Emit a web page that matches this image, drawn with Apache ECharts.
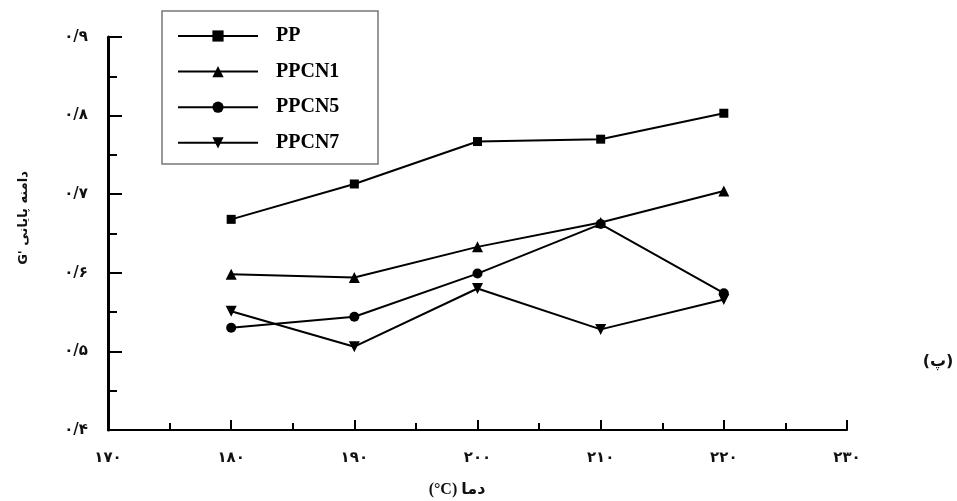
<!DOCTYPE html>
<html><head><meta charset="utf-8">
<script src="https://cdn.jsdelivr.net/npm/echarts@6/dist/echarts.min.js"></script>
<style>html,body{margin:0;padding:0;background:#fff}#c{width:957px;height:501px}</style>
</head><body><div id="c"></div>
<script>
const temps = [180, 190, 200, 210, 220];
const ppValues    = [0.668, 0.713, 0.767, 0.770, 0.803];
const ppcn1Values = [0.598, 0.594, 0.633, 0.664, 0.704];
const ppcn5Values = [0.530, 0.544, 0.599, 0.662, 0.574];
const ppcn7Values = [0.551, 0.506, 0.580, 0.528, 0.566];
const seriesNames = ['PP', 'PPCN1', 'PPCN5', 'PPCN7'];
const xTickValues = [170, 180, 190, 200, 210, 220, 230];
const xTickLabels = ['۱۷۰', '۱۸۰', '۱۹۰', '۲۰۰', '۲۱۰', '۲۲۰', '۲۳۰'];
const yTickValues = [0.4, 0.5, 0.6, 0.7, 0.8, 0.9];
const yTickLabels = ['۰/۴', '۰/۵', '۰/۶', '۰/۷', '۰/۸', '۰/۹'];
const xTitle = '(°C) دما';
const yTitle = "G' دامنه پایانی";
const panelLabel = '(پ)';

function lookup(vals, labels, v) {
  for (let i = 0; i < vals.length; i++) if (Math.abs(vals[i] - v) < 1e-6) return labels[i];
  return '';
}
const pair = arr => temps.map((t, i) => [t, arr[i]]);
const labelFont = {color: '#111', fontFamily: 'DejaVu Sans', fontWeight: 'bold', fontSize: 15};
const lineCommon = {
  type: 'line', lineStyle: {color: '#000', width: 2}, itemStyle: {color: '#000'},
  symbolSize: 9, z: 3
};
const chart = echarts.init(document.getElementById('c'), null, {renderer: 'canvas'});
chart.setOption({
  animation: false,
  backgroundColor: '#fff',
  grid: {left: 108, right: 110, top: 37, bottom: 71},
  xAxis: {
    type: 'value', min: 170, max: 230, interval: 10,
    axisLine: {lineStyle: {color: '#000', width: 2}},
    axisTick: {inside: true, length: 10, lineStyle: {color: '#000', width: 2}},
    minorTick: {show: true, splitNumber: 2, length: 7, lineStyle: {color: '#000', width: 2}},
    splitLine: {show: false},
    axisLabel: Object.assign({margin: 21, formatter: v => lookup(xTickValues, xTickLabels, v)}, labelFont)
  },
  yAxis: {
    type: 'value', min: 0.4, max: 0.9, interval: 0.1,
    axisLine: {show: true, lineStyle: {color: '#000', width: 3}},
    axisTick: {show: true, inside: true, length: 14, lineStyle: {color: '#000', width: 2}},
    minorTick: {show: true, splitNumber: 2, length: 9, lineStyle: {color: '#000', width: 2}},
    splitLine: {show: false},
    axisLabel: Object.assign({margin: 20, formatter: v => lookup(yTickValues, yTickLabels, v)}, labelFont)
  },
  legend: {
    orient: 'vertical', left: 177, top: 26, itemWidth: 80, itemHeight: 14, itemGap: 15.6,
    padding: 0,
    textStyle: {fontFamily: 'Liberation Serif', fontWeight: 'bold', fontSize: 20, color: '#000',
                lineHeight: 20, padding: [0, 0, 0, 13]},
    data: seriesNames
  },
  graphic: [
    {type: 'rect', shape: {x: 162, y: 11, width: 216, height: 153},
     style: {fill: 'none', stroke: '#777', lineWidth: 1.5}, z: 1},
    {type: 'text', x: 457, y: 490, style: {text: xTitle, font: 'bold 16px "Liberation Serif", "DejaVu Sans"', fill: '#111',
     textAlign: 'center', textVerticalAlign: 'middle'}},
    {type: 'text', x: 24, y: 218, rotation: Math.PI / 2, style: {text: yTitle, font: 'bold 13px "DejaVu Sans"',
     fill: '#111', textAlign: 'center', textVerticalAlign: 'middle'}},
    {type: 'text', x: 938, y: 362, style: {text: panelLabel, font: 'bold 16px "DejaVu Sans"', fill: '#111',
     textAlign: 'center', textVerticalAlign: 'middle'}}
  ],
  series: [
    Object.assign({}, lineCommon, {name: 'PP', symbol: 'rect', symbolSize: 9, data: pair(ppValues)}),
    Object.assign({}, lineCommon, {name: 'PPCN1', symbol: 'triangle', symbolSize: 11, data: pair(ppcn1Values)}),
    Object.assign({}, lineCommon, {name: 'PPCN5', symbol: 'circle', symbolSize: 10, data: pair(ppcn5Values)}),
    Object.assign({}, lineCommon, {name: 'PPCN7', symbol: 'triangle', symbolRotate: 180, symbolSize: 11, data: pair(ppcn7Values)})
  ]
});
</script></body></html>
